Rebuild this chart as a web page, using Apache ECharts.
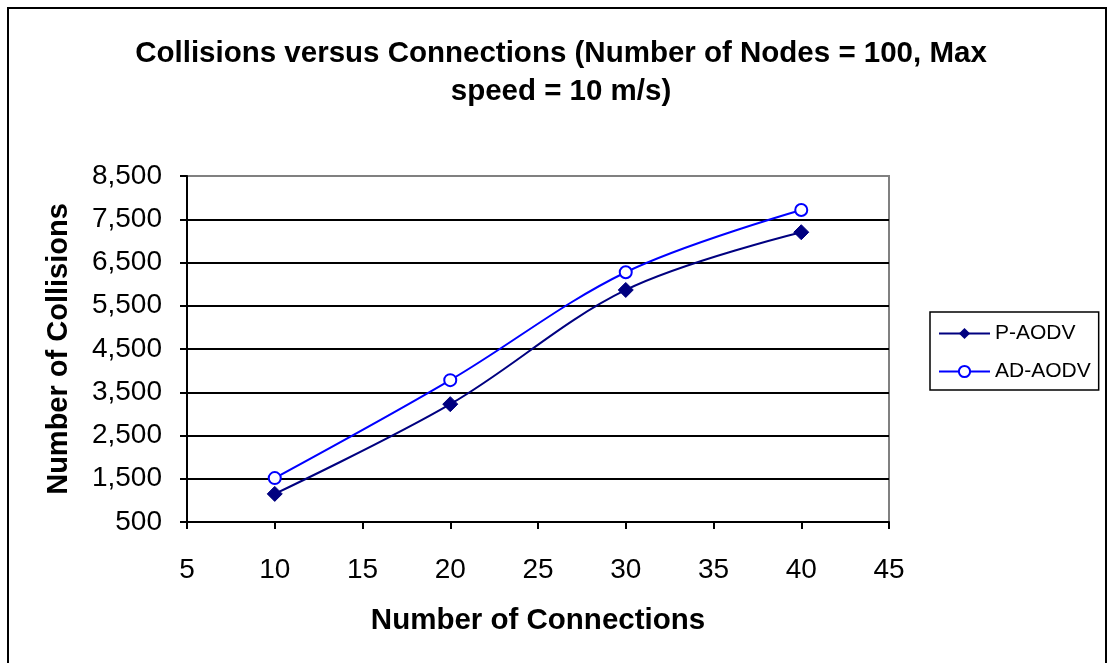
<!DOCTYPE html>
<html>
<head>
<meta charset="utf-8">
<script src="https://cdn.jsdelivr.net/npm/echarts@6/dist/echarts.min.js"></script>
<style>
  html, body { margin: 0; padding: 0; background: #fff; }
  #main { width: 1108px; height: 663px; }
</style>
</head>
<body>
<div id="main"></div>
<script>
// 数据
var connections = [10, 20, 30, 40];
var pAodv = [1150, 3225, 5865, 7200];
var adAodv = [1515, 3780, 6275, 7715];
var seriesNames = ['P-AODV', 'AD-AODV'];

(function(){
    var myChart = echarts.init(document.getElementById("main"));
    var font = "'Liberation Sans', Arial, sans-serif";
    // 最上面一条用灰色（绘图区边框）
    var gridColors = ['#000', '#000', '#000', '#000', '#000', '#000', '#000', '#000', '#808080'];

    function pairs(ys) {
        return connections.map(function (x, i) { return [x, ys[i]]; });
    }

    var option = {
        animation: false,
        backgroundColor: '#fff',
        textStyle: { fontFamily: font },
        title: {
            text: 'Collisions versus Connections (Number of Nodes = 100, Max\nspeed = 10 m/s)',
            left: 556,
            top: 30,
            textAlign: 'center',
            textStyle: {
                fontFamily: font,
                fontSize: 29.5,
                fontWeight: 'bold',
                color: '#000',
                lineHeight: 38
            }
        },
        legend: {
            orient: 'vertical',
            left: 930,
            top: 312,
            padding: [11, 8, 8, 8],
            itemGap: 17,
            itemWidth: 51,
            itemHeight: 14,
            borderColor: '#000',
            borderWidth: 1.5,
            textStyle: { fontFamily: font, fontSize: 21, color: '#000' },
            data: seriesNames
        },
        grid: {
            left: 187,
            right: 219,
            top: 176,
            bottom: 141,
            show: true,
            borderColor: '#808080',
            borderWidth: 2
        },
        xAxis: {
            type: 'value',
            min: 5,
            max: 45,
            interval: 5,
            name: 'Number of Connections',
            nameLocation: 'middle',
            nameGap: 84,
            nameTextStyle: { fontFamily: font, fontSize: 29.5, fontWeight: 'bold', color: '#000' },
            axisLine: { lineStyle: { color: '#000', width: 2 } },
            axisTick: { show: true, length: 7, lineStyle: { color: '#000', width: 2 } },
            axisLabel: { margin: 34, fontFamily: font, fontSize: 28, color: '#000' },
            splitLine: { show: false }
        },
        yAxis: {
            type: 'value',
            min: 500,
            max: 8500,
            interval: 1000,
            name: 'Number of Collisions',
            nameLocation: 'middle',
            nameGap: 114,
            nameTextStyle: { fontFamily: font, fontSize: 29, fontWeight: 'bold', color: '#000' },
            axisLine: { show: true, lineStyle: { color: '#000', width: 2 } },
            axisTick: { show: true, length: 7, lineStyle: { color: '#000', width: 2 } },
            axisLabel: {
                margin: 25,
                fontFamily: font,
                fontSize: 28,
                color: '#000',
                formatter: function (v) { return v.toLocaleString('en-US'); }
            },
            splitLine: { show: true, lineStyle: { color: gridColors, width: 2 } }
        },
        series: [
            {
                name: seriesNames[0],
                type: 'line',
                smooth: 0.35,
                data: pairs(pAodv),
                symbol: 'diamond',
                symbolSize: 15,
                lineStyle: { color: '#000080', width: 2 },
                itemStyle: { color: '#000080', borderColor: '#000080' }
            },
            {
                name: seriesNames[1],
                type: 'line',
                smooth: 0.35,
                data: pairs(adAodv),
                symbol: 'circle',
                symbolSize: 12,
                lineStyle: { color: '#0000ff', width: 2 },
                itemStyle: { color: '#fff', borderColor: '#0000ff', borderWidth: 2 }
            }
        ],
        graphic: [{
            type: 'rect',
            shape: { x: 8, y: 8, width: 1098, height: 700 },
            style: { fill: 'none', stroke: '#000', lineWidth: 2 },
            silent: true
        }]
    };
    myChart.setOption(option);
})();
</script>
</body>
</html>
